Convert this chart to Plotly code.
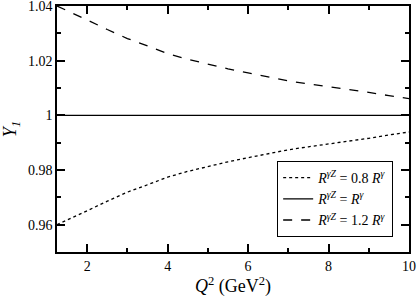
import plotly.graph_objects as go

q2 = [1.25, 1.5, 2, 2.5, 3, 3.5, 4, 4.5, 5, 5.5, 6, 6.5, 7, 7.5, 8, 8.5, 9, 9.5, 10]
y_08 = [0.9600, 0.9618, 0.9651, 0.9686, 0.9719, 0.9746, 0.9774, 0.9795, 0.9813, 0.9830,
        0.9845, 0.9860, 0.9874, 0.9885, 0.9895, 0.9905, 0.9916, 0.9928, 0.9939]
y_10 = [1.0] * len(q2)
y_12 = [1.0400, 1.0382, 1.0349, 1.0314, 1.0281, 1.0254, 1.0226, 1.0205, 1.0187, 1.0170,
        1.0155, 1.0140, 1.0126, 1.0115, 1.0105, 1.0095, 1.0084, 1.0072, 1.0061]

names = ["<i>R</i><sup><i>γZ</i></sup> = 0.8 <i>R</i><sup><i>γ</i></sup>",
         "<i>R</i><sup><i>γZ</i></sup> = <i>R</i><sup><i>γ</i></sup>",
         "<i>R</i><sup><i>γZ</i></sup> = 1.2 <i>R</i><sup><i>γ</i></sup>"]

font = "Liberation Serif"

fig = go.Figure()
fig.add_trace(go.Scatter(x=q2, y=y_08, mode="lines", name=names[0],
                         line=dict(color="black", width=1.3, dash="dot")))
fig.add_trace(go.Scatter(x=q2, y=y_10, mode="lines", name=names[1],
                         line=dict(color="black", width=1.3, dash="solid")))
fig.add_trace(go.Scatter(x=q2, y=y_12, mode="lines", name=names[2],
                         line=dict(color="black", width=1.3, dash="dash")))

axis_common = dict(showgrid=False, zeroline=False, showline=True, linecolor="black",
                   linewidth=1.5, ticks="inside", ticklen=8, tickwidth=1.5,
                   tickcolor="black", mirror="allticks", automargin=False,
                   ticklabeloverflow="allow",
                   tickfont=dict(family=font, size=14, color="black"))

fig.update_xaxes(range=[1.25, 10], tickvals=[2, 4, 6, 8, 10],
                 minor=dict(ticks="inside", ticklen=4, tickwidth=1.5, tickcolor="black",
                            tickvals=[3, 5, 7, 9]),
                 title=dict(text="<i>Q</i><sup>2</sup> (GeV<sup>2</sup>)",
                            font=dict(family=font, size=18, color="black"), standoff=6),
                 **axis_common)
fig.update_yaxes(range=[0.95, 1.04], tickvals=[0.96, 0.98, 1.0, 1.02, 1.04],
                 ticktext=["0.96", "0.98", "1", "1.02", "1.04"],
                 minor=dict(ticks="inside", ticklen=4, tickwidth=1.5, tickcolor="black",
                            tickvals=[0.97, 0.99, 1.01, 1.03]),
                 title=dict(text="<i>Y<sub>1</sub></i>",
                            font=dict(family=font, size=18, color="black"), standoff=8),
                 **axis_common)

fig.update_layout(
    width=417, height=300,
    margin=dict(l=57, r=8, t=6, b=48, autoexpand=False),
    plot_bgcolor="white", paper_bgcolor="white",
    showlegend=True,
    legend=dict(x=0.955, y=0.061, xanchor="right", yanchor="bottom",
                bordercolor="black", borderwidth=1, bgcolor="white",
                font=dict(family=font, size=14, color="black"),
                itemwidth=30, tracegroupgap=0),
)

fig.write_html("out.html", config={"displayModeBar": False},
               post_script="document.body.style.margin='0';")
